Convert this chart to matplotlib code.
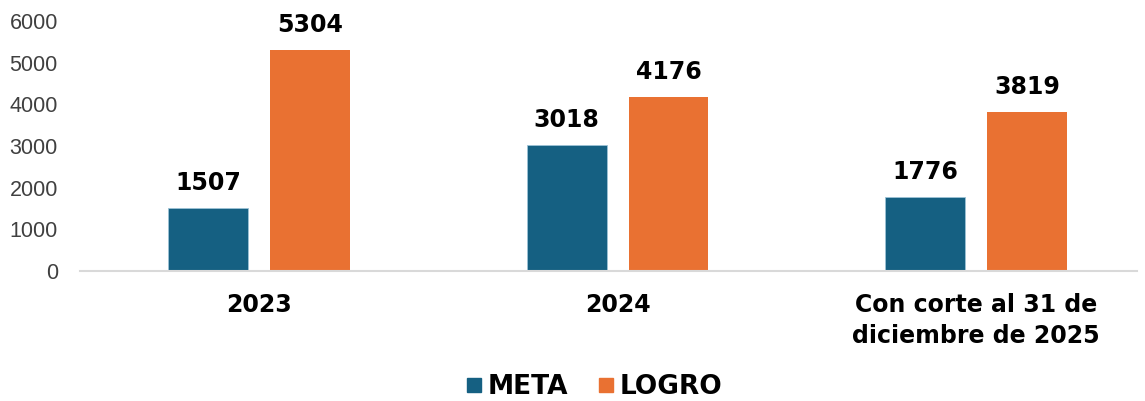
import matplotlib
matplotlib.use("Agg")
import matplotlib.pyplot as plt
import numpy as np

categories = ["2023", "2024", "Con corte al 31 de\ndiciembre de 2025"]
meta = [1507, 3018, 1776]
logro = [5304, 4176, 3819]
series_names = ["META", "LOGRO"]
yticks = [0, 1000, 2000, 3000, 4000, 5000, 6000]

c_meta = "#156082"
c_logro = "#E97132"

fig = plt.figure(figsize=(11.45, 4.01), dpi=100)
ax = fig.add_axes([80/1145, 130/401, (1137-80)/1145, 250/401])

x = np.arange(len(categories))
w = 0.223
off = 0.142
b1 = ax.bar(x - off, meta, w, color=c_meta, label=series_names[0], edgecolor="#9DC3D6", linewidth=0.6)
b2 = ax.bar(x + off, logro, w, color=c_logro, label=series_names[1])

for bars in (b1, b2):
    for r in bars:
        ax.annotate(f"{int(r.get_height())}", (r.get_x() + r.get_width()/2, r.get_height()),
                    xytext=(0, 9.5), textcoords="offset points", ha="center", va="bottom",
                    fontsize=17, fontweight="bold", family="DejaVu Sans", color="black")

ax.set_xlim(-0.5, (1137-259)/358.5)
ax.set_ylim(0, 6000)
ax.set_yticks(yticks)
ax.set_yticklabels([str(v) for v in yticks], fontsize=15.5, family="Liberation Sans", color="#404040")
ax.set_xticks(x)
ax.set_xticklabels(categories, fontsize=17, fontweight="bold", family="DejaVu Sans", linespacing=1.35)
ax.tick_params(axis="x", length=0, pad=16)
ax.tick_params(axis="y", length=0, pad=16)
for s in ["top", "right", "left"]:
    ax.spines[s].set_visible(False)
ax.spines["bottom"].set_color("#D9D9D9")
ax.spines["bottom"].set_linewidth(1.5)

handles = [plt.Line2D([], [], marker="s", linestyle="none", markersize=10.5, color=c) for c in (c_meta, c_logro)]
fig.legend(handles, series_names, loc="center", bbox_to_anchor=(592/1145, 1 - 387/401), ncol=2,
           frameon=False, prop={"family": "DejaVu Sans", "weight": "bold", "size": 19},
           handletextpad=0.05, columnspacing=1.0, handlelength=0.9)

fig.savefig("out.png", dpi=100)
